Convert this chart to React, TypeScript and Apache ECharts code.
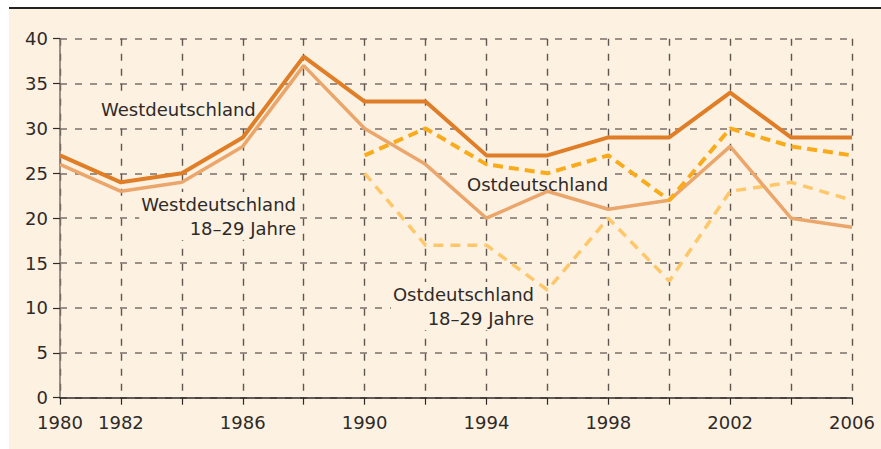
import React, { useEffect, useRef } from "react";
import * as echarts from "echarts";

const westYears = [1980, 1982, 1984, 1986, 1988, 1990, 1992, 1994, 1996, 1998, 2000, 2002, 2004, 2006];
const westAll = [27, 24, 25, 29, 38, 33, 33, 27, 27, 29, 29, 34, 29, 29];
const westYoung = [26, 23, 24, 28, 37, 30, 26, 20, 23, 21, 22, 28, 20, 19];
const eastYears = [1990, 1992, 1994, 1996, 1998, 2000, 2002, 2004, 2006];
const eastAll = [27, 30, 26, 25, 27, 22, 30, 28, 27];
const eastYoung = [25, 17, 17, 12, 20, 13, 23, 24, 22];
const labeledYears = [1980, 1982, 1986, 1990, 1994, 1998, 2002, 2006];

const BG = "#fdf1e2";
const FONT = "DejaVu Sans";

const pairs = (xs: number[], ys: number[]) => xs.map((x, i) => [x, ys[i]]);

export default function App() {
  const ref = useRef<HTMLDivElement>(null);
  useEffect(() => {
    document.body.style.margin = "0";
    const chart = echarts.init(ref.current!, null, { renderer: "svg" });
    const textStyle = (x: number, y: number, text: string, align: string) => ({
      type: "text",
      x,
      y,
      z: 1,
      style: {
        text,
        fill: "#2e2a28",
        font: `18px "${FONT}"`,
        align,
        verticalAlign: "middle",
        lineHeight: 24,
        backgroundColor: BG,
        padding: [0, 2],
      },
    });
    chart.setOption({
      animation: false,
      grid: { left: 60, right: 29, top: 38.7, bottom: 51.3 },
      xAxis: {
        type: "value",
        min: 1980,
        max: 2006,
        interval: 2,
        axisLine: { show: true, lineStyle: { color: "#2e2a28", width: 1.5 } },
        axisTick: { show: true, length: 7, lineStyle: { color: "#2e2a28", width: 1.2 } },
        axisLabel: {
          margin: 16,
          color: "#2e2a28",
          fontSize: 18,
          fontFamily: FONT,
          formatter: (v: number) => (labeledYears.includes(v) ? String(v) : ""),
        },
        splitLine: { show: true, lineStyle: { color: "#5e5750", width: 1.4, type: [7, 8] } },
      },
      yAxis: {
        type: "value",
        min: 0,
        max: 40,
        interval: 5,
        axisLine: { show: true, lineStyle: { color: "#7a706a", width: 1.5 } },
        axisTick: { show: true, length: 7, lineStyle: { color: "#2e2a28", width: 1.2 } },
        axisLabel: { margin: 12, color: "#2e2a28", fontSize: 18, fontFamily: FONT },
        splitLine: { show: true, lineStyle: { color: "#7a706a", width: 1.6, type: [7, 8] } },
      },
      graphic: [
        textStyle(99, 109, "Westdeutschland", "left"),
        textStyle(298, 216, "Westdeutschland\n18–29 Jahre", "right"),
        textStyle(465, 184, "Ostdeutschland", "left"),
        textStyle(536, 306, "Ostdeutschland\n18–29 Jahre", "right"),
      ],
      series: [
        {
          name: "Ostdeutschland 18–29 Jahre",
          type: "line",
          data: pairs(eastYears, eastYoung),
          symbol: "none",
          z: 3,
          lineStyle: { color: "#fec86a", width: 3.5, type: [10, 7] },
        },
        {
          name: "Westdeutschland 18–29 Jahre",
          type: "line",
          data: pairs(westYears, westYoung),
          symbol: "none",
          z: 4,
          lineStyle: { color: "#eba66b", width: 3.5 },
        },
        {
          name: "Ostdeutschland",
          type: "line",
          data: pairs(eastYears, eastAll),
          symbol: "none",
          z: 5,
          lineStyle: { color: "#f9ab1c", width: 4, type: [10, 6] },
        },
        {
          name: "Westdeutschland",
          type: "line",
          data: pairs(westYears, westAll),
          symbol: "none",
          z: 6,
          lineStyle: { color: "#e07d27", width: 4 },
        },
      ],
    });
    return () => chart.dispose();
  }, []);
  return (
    <div style={{ position: "relative", width: 881, height: 449, background: "#fff" }}>
      <div
        style={{
          position: "absolute",
          left: 9,
          top: 7,
          right: 0,
          bottom: 0,
          background: BG,
          borderTop: "2px solid #222",
        }}
      />
      <div ref={ref} style={{ position: "absolute", left: 0, top: 0, width: 881, height: 449 }} />
    </div>
  );
}
